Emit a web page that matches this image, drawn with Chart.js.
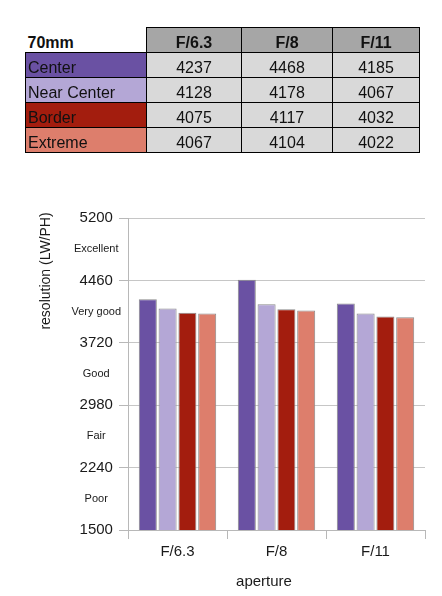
<!DOCTYPE html>
<html>
<head>
<meta charset="utf-8">
<script src="https://cdn.jsdelivr.net/npm/chart.js@4.4.1/dist/chart.umd.min.js"></script>
<style>
  html, body { margin: 0; padding: 0; background: #fff; }
  body {
    width: 442px;
    height: 596px;
    position: relative;
    overflow: hidden;
    font-family: Arial, "Liberation Sans", sans-serif;
  }
  #chart-box {
    position: absolute;
    left: 0;
    top: 0;
    width: 442px;
    height: 596px;
  }
  #tbl {
    position: absolute;
    left: 25px;
    top: 27px;
    width: 394px;
    border-collapse: collapse;
    table-layout: fixed;
    font-size: 16px;
    color: #111;
  }
  #tbl td, #tbl th {
    border: 1px solid #000;
    padding: 0 0 1px 0;
    height: 23px;
    line-height: 16px;
    vertical-align: bottom;
    white-space: nowrap;
    overflow: hidden;
  }
  #tbl th { font-weight: bold; }
  #tbl .corner {
    border-top: none;
    border-left: none;
    text-align: left;
    padding-left: 2px;
    background: #fff;
  }
  #tbl .head { background: #a6a6a6; text-align: center; }
  #tbl .label { text-align: left; padding-left: 2px; }
  #tbl .num { background: #d9d9d9; text-align: center; }
</style>
</head>
<body>
<div id="chart-box"><canvas id="resChart"></canvas></div>
<table id="tbl">
  <colgroup>
    <col style="width:121px">
    <col style="width:95px">
    <col style="width:91px">
    <col style="width:87px">
  </colgroup>
  <tbody></tbody>
</table>
<script>
const focalLength = '70mm';
const apertures = ['F/6.3', 'F/8', 'F/11'];
const seriesNames = ['Center', 'Near Center', 'Border', 'Extreme'];
const center = [4237, 4468, 4185];
const nearCenter = [4128, 4178, 4067];
const border = [4075, 4117, 4032];
const extreme = [4067, 4104, 4022];
const seriesColors = ['#6a51a3', '#b4a7d6', '#a31d0e', '#dd7e6c'];

const yTickValues = [1500, 1870, 2240, 2610, 2980, 3350, 3720, 4090, 4460, 4830, 5200];
const yTickLabels = ['1500', 'Poor', '2240', 'Fair', '2980', 'Good', '3720', 'Very good', '4460', 'Excellent', '5200'];

const seriesValues = [center, nearCenter, border, extreme];

// table above the chart
let rows = '<tr><th class="corner">' + focalLength + '</th>' +
  apertures.map(a => '<th class="head">' + a + '</th>').join('') + '</tr>';
seriesNames.forEach((name, i) => {
  rows += '<tr><td class="label" style="background:' + seriesColors[i] + '">' + name + '</td>' +
    seriesValues[i].map(v => '<td class="num">' + v + '</td>').join('') + '</tr>';
});
document.querySelector('#tbl tbody').innerHTML = rows;

const isMajor = i => i % 2 === 0;
const textColor = '#1a1a1a';
const gridGray = '#c6c6c6';
const axisGray = '#b8b8b8';

// axis titles drawn by hand, they are not centred on the axes in the original
const axisTitles = {
  id: 'axisTitles',
  afterDraw(chart) {
    const ctx = chart.ctx;
    ctx.save();
    ctx.fillStyle = textColor;
    ctx.textAlign = 'center';
    ctx.textBaseline = 'alphabetic';
    ctx.font = '15px Arial, "Liberation Sans", sans-serif';
    ctx.fillText('aperture', 264, 586);
    ctx.translate(50, 271);
    ctx.rotate(-Math.PI / 2);
    ctx.font = '14px Arial, "Liberation Sans", sans-serif';
    ctx.fillText('resolution (LW/PH)', 0, 0);
    ctx.restore();
  }
};

new Chart(document.getElementById('resChart'), {
  type: 'bar',
  data: {
    labels: apertures,
    datasets: seriesNames.map((name, i) => ({
      label: name,
      data: seriesValues[i],
      backgroundColor: seriesColors[i],
      borderColor: '#8a8a8a',
      borderWidth: 1,
      categoryPercentage: 0.8,
      barPercentage: 0.91
    }))
  },
  options: {
    responsive: true,
    maintainAspectRatio: false,
    animation: false,
    devicePixelRatio: 1,
    layout: { padding: { top: 218, left: 0, right: 17, bottom: 0 } },
    plugins: {
      legend: { display: false },
      tooltip: { enabled: false }
    },
    scales: {
      x: {
        afterFit: axis => { axis.height = 66; },
        grid: {
          display: true,
          offset: true,
          drawOnChartArea: false,
          tickLength: 9,
          color: axisGray
        },
        border: { color: axisGray },
        ticks: {
          color: textColor,
          padding: 4,
          font: { family: 'Arial, "Liberation Sans", sans-serif', size: 15 }
        }
      },
      y: {
        min: 1500,
        max: 5200,
        afterFit: axis => { axis.width = 128; },
        afterBuildTicks: axis => {
          axis.ticks = yTickValues.map(v => ({ value: v }));
        },
        grid: {
          tickLength: 9,
          color: ctx => isMajor(ctx.index) ? gridGray : 'rgba(0,0,0,0)',
          tickColor: ctx => isMajor(ctx.index) ? axisGray : 'rgba(0,0,0,0)'
        },
        border: { color: axisGray },
        ticks: {
          autoSkip: false,
          crossAlign: 'center',
          padding: -2,
          color: textColor,
          callback: (value, index) => yTickLabels[index],
          font: ctx => isMajor(ctx.index)
            ? { family: 'Arial, "Liberation Sans", sans-serif', size: 15 }
            : { family: 'Arial, "Liberation Sans", sans-serif', size: 11 }
        }
      }
    }
  },
  plugins: [axisTitles]
});
</script>
</body>
</html>
